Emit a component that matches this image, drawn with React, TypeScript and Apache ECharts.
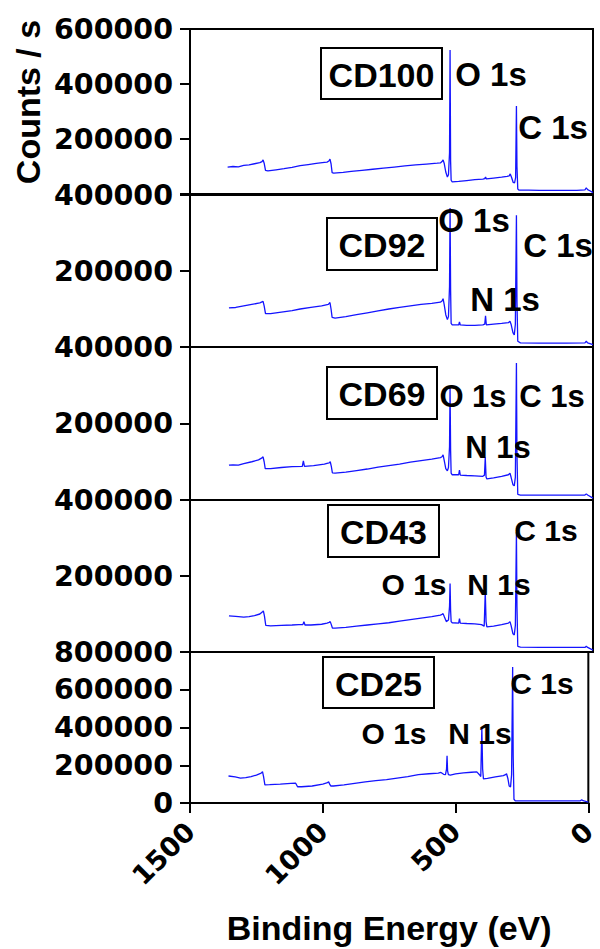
import React, { useEffect, useRef } from 'react';
import * as echarts from 'echarts';

// ---- data (binding energy eV, counts/s) ----
const sampleNames = ['CD100', 'CD92', 'CD69', 'CD43', 'CD25'];
const yMaxes = [600000, 400000, 400000, 400000, 800000];
const xTicks = [1500, 1000, 500, 0];

const cd100: number[][] = [
  [1360, 98000], [1340, 100000], [1320, 99000], [1300, 104000], [1280, 106000], [1260, 110000],
  [1240, 114000], [1232, 118000], [1228, 124000], [1224, 112000], [1219, 86000], [1210, 84000],
  [1180, 88000], [1150, 92000], [1120, 97000], [1090, 103000], [1060, 107000], [1030, 111000],
  [1000, 115000], [990, 116000], [983, 120000], [979, 127000], [975, 110000], [971, 78000],
  [965, 76000], [930, 79000], [900, 82000], [860, 86000], [820, 90000], [780, 94000],
  [740, 98000], [700, 102000], [660, 106000], [620, 109000], [580, 112000], [568, 113000],
  [562, 118000], [558, 124000], [554, 112000], [548, 80000], [542, 62000], [538, 70000],
  [534, 150000], [532, 524000], [530, 120000], [528, 50000], [524, 44000], [500, 46000],
  [470, 49000], [440, 52000], [410, 54000], [403, 56000], [400, 62000], [397, 55000],
  [370, 58000], [340, 61000], [320, 64000], [312, 66000], [308, 73000], [303, 60000],
  [297, 42000], [292, 40000], [288, 60000], [285, 320000], [283, 100000], [280, 18000],
  [275, 14000], [240, 14000], [200, 13000], [150, 13000], [100, 13000], [60, 13000],
  [30, 15000], [25, 22000], [20, 16000], [10, 11000], [0, 5000],
];

const cd92: number[][] = [
  [1355, 103000], [1330, 104000], [1300, 108000], [1270, 112000], [1240, 116000], [1228, 120000],
  [1224, 108000], [1219, 88000], [1200, 88000], [1160, 92000], [1120, 96000], [1090, 100000],
  [1050, 104000], [1010, 108000], [985, 112000], [979, 117000], [975, 100000], [971, 78000],
  [960, 76000], [920, 80000], [880, 85000], [840, 90000], [800, 95000], [760, 100000],
  [720, 104000], [680, 108000], [640, 112000], [600, 115000], [568, 118000], [562, 121000],
  [558, 127000], [554, 112000], [548, 85000], [542, 72000], [538, 80000], [534, 160000],
  [532, 366000], [530, 150000], [528, 62000], [524, 58000], [500, 58000], [497, 66000],
  [494, 58000], [470, 57000], [440, 57000], [410, 58000], [403, 60000], [400, 82000],
  [397, 58000], [370, 60000], [340, 62000], [315, 64000], [309, 68000], [305, 60000],
  [298, 38000], [293, 32000], [289, 60000], [285, 347000], [283, 120000], [280, 15000],
  [270, 11000], [200, 10000], [100, 10000], [30, 11000], [25, 15000], [20, 11000], [0, 6000],
];

const cd69: number[][] = [
  [1355, 91000], [1340, 92000], [1320, 91000], [1300, 95000], [1270, 100000], [1245, 105000],
  [1232, 110000], [1228, 113000], [1224, 100000], [1220, 82000], [1200, 82000], [1160, 85000],
  [1120, 87000], [1082, 88000], [1078, 102000], [1074, 88000], [1040, 90000], [1000, 94000],
  [990, 96000], [982, 97000], [978, 100000], [974, 88000], [970, 71000], [960, 70000],
  [920, 73000], [880, 77000], [840, 81000], [800, 86000], [760, 90000], [720, 94000],
  [680, 99000], [640, 103000], [600, 107000], [568, 111000], [562, 113000], [558, 118000],
  [554, 104000], [548, 82000], [542, 76000], [538, 85000], [534, 140000], [532, 295000],
  [530, 130000], [528, 70000], [524, 66000], [500, 66000], [497, 78000], [494, 65000],
  [470, 64000], [440, 63000], [410, 62000], [404, 65000], [401, 112000], [398, 60000],
  [395, 55000], [370, 58000], [340, 62000], [315, 66000], [309, 70000], [305, 60000],
  [298, 40000], [293, 37000], [289, 60000], [285, 358000], [283, 120000], [280, 15000],
  [270, 13000], [200, 13000], [100, 13000], [30, 13000], [25, 16000], [20, 13000], [0, 5000],
];

const cd43: number[][] = [
  [1355, 95000], [1330, 94000], [1300, 92000], [1280, 93000], [1260, 96000], [1240, 100000],
  [1230, 106000], [1227, 108000], [1223, 95000], [1218, 70000], [1200, 69000], [1160, 70000],
  [1120, 71000], [1095, 72000], [1080, 72000], [1076, 80000], [1072, 71000], [1050, 71000],
  [1010, 73000], [990, 76000], [982, 78000], [978, 80000], [974, 72000], [970, 63000],
  [960, 63000], [920, 65000], [880, 68000], [840, 71000], [800, 74000], [760, 77000],
  [720, 81000], [680, 85000], [640, 89000], [600, 93000], [568, 97000], [562, 99000],
  [558, 101000], [553, 92000], [546, 80000], [538, 84000], [534, 120000], [532, 180000],
  [530, 110000], [528, 80000], [524, 77000], [500, 76000], [497, 88000], [494, 76000],
  [470, 75000], [440, 74000], [415, 72000], [405, 68000], [401, 159000], [398, 80000],
  [395, 66000], [370, 68000], [340, 72000], [315, 76000], [309, 80000], [305, 70000],
  [298, 48000], [293, 45000], [289, 70000], [285, 315000], [283, 120000], [280, 15000],
  [270, 13000], [200, 12000], [100, 12000], [30, 12000], [25, 15000], [20, 12000], [0, 5000],
];

const cd25: number[][] = [
  [1355, 143000], [1330, 138000], [1310, 132000], [1290, 134000], [1270, 140000], [1250, 148000],
  [1232, 158000], [1227, 166000], [1223, 140000], [1218, 96000], [1200, 97000], [1160, 100000],
  [1120, 104000], [1102, 105000], [1095, 86000], [1080, 86000], [1040, 90000], [1000, 100000],
  [985, 106000], [978, 112000], [974, 100000], [970, 90000], [960, 90000], [920, 96000],
  [880, 104000], [840, 112000], [800, 118000], [760, 124000], [720, 132000], [680, 140000],
  [640, 150000], [600, 155000], [565, 158000], [555, 162000], [545, 152000], [538, 150000],
  [534, 180000], [532, 250000], [530, 170000], [527, 150000], [520, 148000], [500, 154000],
  [470, 160000], [440, 163000], [420, 165000], [410, 150000], [405, 140000], [401, 397000],
  [398, 180000], [395, 128000], [380, 130000], [350, 138000], [320, 145000], [312, 150000],
  [308, 155000], [303, 130000], [298, 90000], [293, 85000], [289, 150000], [285, 720000],
  [283, 250000], [280, 20000], [275, 11000], [200, 11000], [100, 11000], [30, 12000],
  [25, 17000], [20, 12000], [0, 5000],
];

const spectra = [cd100, cd92, cd69, cd43, cd25];

// peak annotations per panel
const peakTexts = [
  ['O 1s', 'C 1s'],
  ['O 1s', 'C 1s', 'N 1s'],
  ['O 1s', 'C 1s', 'N 1s'],
  ['C 1s', 'O 1s', 'N 1s'],
  ['C 1s', 'O 1s', 'N 1s'],
];

// ---- layout (pixels) ----
const PLOT_LEFT = 190;
const PLOT_WIDTH = 403;
const gridTops = [29, 195, 347, 500, 652];
const gridHeights = [165, 152, 153, 152, 151];
const peakPos = [
  [[491, 73], [553, 126]],
  [[474, 219], [558, 244], [505, 298]],
  [[473, 395], [552, 395], [498, 446]],
  [[546, 529], [414, 583], [499, 583]],
  [[542, 682], [394, 732], [480, 732]],
];
const peakFont = [33, 33, 31, 30, 30];
const boxRects = [
  [321, 48, 121, 51],
  [327, 218, 110, 52],
  [327, 367, 110, 52],
  [328, 505, 111, 52],
  [323, 657, 111, 51],
];

const SANS = '"Liberation Sans", Arial, sans-serif';
const NUM = '"DejaVu Sans", sans-serif';

export default function App() {
  const ref = useRef<HTMLDivElement>(null);
  useEffect(() => {
    document.body.style.margin = '0';
    if (!ref.current) return;
    const chart = echarts.init(ref.current, undefined, { renderer: 'svg' });
    const n = spectra.length;

    const grids = gridTops.map((t, i) => ({
      left: PLOT_LEFT,
      width: PLOT_WIDTH,
      top: t,
      height: gridHeights[i],
      show: true,
      borderColor: '#000',
      borderWidth: 2,
      backgroundColor: 'transparent',
      containLabel: false,
    }));

    const xAxes = spectra.map((_, i) => {
      const last = i === n - 1;
      return {
        type: 'value',
        gridIndex: i,
        min: 0,
        max: 1500,
        interval: 500,
        inverse: true,
        splitLine: { show: false },
        axisLine: { show: last, onZero: false, lineStyle: { color: '#000', width: 2 } },
        axisTick: { show: last, inside: false, length: 10, lineStyle: { color: '#000', width: 2 } },
        axisLabel: {
          show: last,
          rotate: 45,
          margin: 24,
          fontSize: 27,
          fontWeight: 'bold',
          fontFamily: NUM,
          color: '#000',
          formatter: (v: number) => (xTicks.includes(v) ? String(v) : ''),
        },
        name: last ? 'Binding Energy (eV)' : '',
        nameLocation: 'middle',
        nameGap: 108,
        nameTextStyle: { fontSize: 34, fontWeight: 'bold', fontFamily: SANS, color: '#000' },
      };
    });

    const yAxes = spectra.map((_, i) => {
      const last = i === n - 1;
      return {
        type: 'value',
        gridIndex: i,
        min: 0,
        max: yMaxes[i],
        interval: 200000,
        splitLine: { show: false },
        axisLine: { show: true, onZero: false, lineStyle: { color: '#000', width: 2 } },
        axisTick: { show: true, inside: false, length: 10, lineStyle: { color: '#000', width: 2 } },
        axisLabel: {
          margin: 17,
          fontSize: 28.5,
          fontWeight: 'bold',
          fontFamily: NUM,
          color: '#000',
          formatter: (v: number) => (v === 0 && !last ? '' : String(v)),
        },
      };
    });

    const series = spectra.map((d, i) => ({
      type: 'line',
      name: sampleNames[i],
      xAxisIndex: i,
      yAxisIndex: i,
      data: d,
      showSymbol: false,
      symbol: 'none',
      lineStyle: { color: '#1414ff', width: 1.3 },
      emphasis: { disabled: true },
    }));

    const graphics: any[] = [
      {
        type: 'text',
        x: 28,
        y: 102,
        rotation: Math.PI / 2,
        style: {
          text: 'Counts / s',
          fontSize: 34,
          fontWeight: 'bold',
          fontFamily: SANS,
          fill: '#000',
          textAlign: 'center',
          textVerticalAlign: 'middle',
          align: 'center',
          verticalAlign: 'middle',
        },
      },
    ];
    boxRects.forEach((r, i) => {
      graphics.push({
        type: 'rect',
        shape: { x: r[0], y: r[1], width: r[2], height: r[3] },
        style: { fill: 'rgba(0,0,0,0)', stroke: '#000', lineWidth: 2 },
        z: 100,
      });
      graphics.push({
        type: 'text',
        x: r[0] + r[2] / 2,
        y: r[1] + r[3] / 2 + 1,
        style: {
          text: sampleNames[i],
          fontSize: 34,
          fontWeight: 'bold',
          fontFamily: SANS,
          fill: '#000',
          textAlign: 'center',
          textVerticalAlign: 'middle',
          align: 'center',
          verticalAlign: 'middle',
        },
        z: 100,
      });
    });
    peakTexts.forEach((arr, i) => {
      arr.forEach((t, j) => {
        graphics.push({
          type: 'text',
          x: peakPos[i][j][0],
          y: peakPos[i][j][1] + 1,
          style: {
            text: t,
            fontSize: peakFont[i],
            fontWeight: 'bold',
            fontFamily: SANS,
            fill: '#000',
            textAlign: 'center',
            textVerticalAlign: 'middle',
            align: 'center',
            verticalAlign: 'middle',
          },
          z: 100,
        });
      });
    });

    chart.setOption({
      animation: false,
      backgroundColor: '#fff',
      grid: grids,
      xAxis: xAxes,
      yAxis: yAxes,
      series,
      graphic: graphics,
    });
    return () => chart.dispose();
  }, []);
  return <div ref={ref} style={{ width: 600, height: 949 }} />;
}
